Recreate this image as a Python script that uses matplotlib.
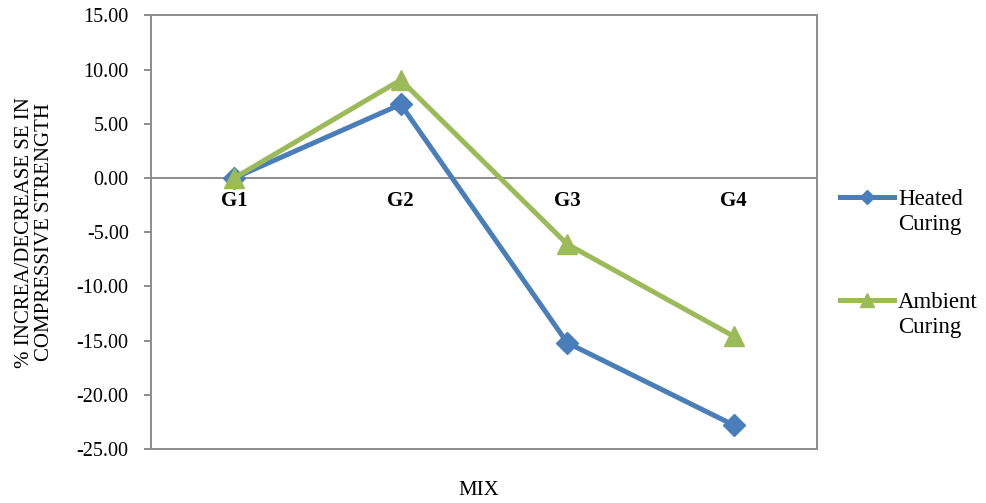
import matplotlib.pyplot as plt
from matplotlib.lines import Line2D

plt.rcParams['font.family'] = ['Liberation Serif', 'DejaVu Serif']

# Data
mixes = ["G1", "G2", "G3", "G4"]
heated = [0.0, 6.8, -15.2, -22.8]
ambient = [0.0, 9.05, -6.1, -14.6]
yticks = [15, 10, 5, 0, -5, -10, -15, -20, -25]

blue = "#4A7EBB"
green = "#9BBB59"
gray = "#8C8C8C"

fig = plt.figure(figsize=(9.86, 5.03), dpi=100)
ax = fig.add_axes([0.1531, 0.1074, 0.6755, 0.8618])

x = range(len(mixes))
ax.plot(x, heated, color=blue, lw=3.6, marker="D", ms=11, zorder=3)
ax.plot(x, ambient, color=green, lw=3.6, marker="^", ms=15, zorder=4)

ax.set_xlim(-0.5, 3.5)
ax.set_ylim(-25, 15)
ax.set_yticks(yticks)
ax.set_yticklabels([f"{v:.2f}" for v in yticks], fontsize=14.5)
ax.set_xticks([])
ax.axhline(0, color=gray, lw=1.4, zorder=1)

# category labels sit just under the zero line
for i, m in enumerate(mixes):
    ax.annotate(m, (i, 0), xytext=(0, -9), textcoords="offset points",
                ha="center", va="top", fontsize=15, fontweight="bold")

for s in ax.spines.values():
    s.set_color(gray)
    s.set_linewidth(1.4)
ax.tick_params(axis="y", direction="out", length=5, color=gray, width=1.4, pad=11)

ax.set_ylabel("% INCREA/DECREASE SE IN\nCOMPRESSIVE STRENGTH", fontsize=15,
              linespacing=1.1)
ax.yaxis.label.set_va("center")
ax.yaxis.set_label_coords(-0.175, 0.5)
fig.text(0.486, 0.024, "MIX", ha="center", va="center", fontsize=15)

# legend drawn by hand so the handle lines up with the first text line
entries = [("Heated\nCuring", blue, "D", 7, 1 - 197 / 503),
           ("Ambient\nCuring", green, "^", 10, 1 - 300 / 503)]
for label, col, mk, size, yy in entries:
    fig.add_artist(Line2D([840 / 986, 894 / 986], [yy, yy], color=col, lw=3.6,
                          transform=fig.transFigure))
    fig.add_artist(Line2D([867 / 986], [yy], color=col, marker=mk, ms=size,
                          transform=fig.transFigure))
    fig.text(898 / 986, yy + 0.016, label, ha="left", va="top", fontsize=16.5,
             linespacing=1.25)

fig.savefig("out.png", dpi=100)
